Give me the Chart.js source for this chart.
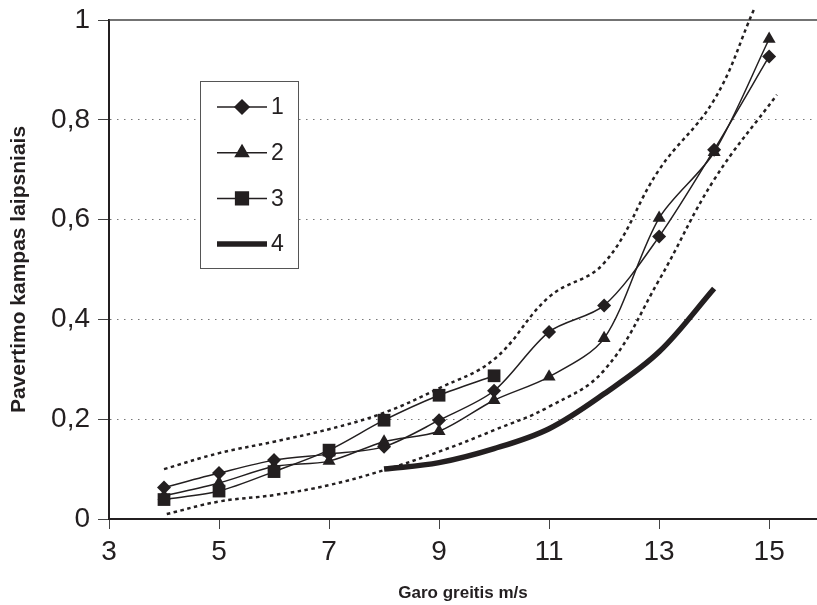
<!DOCTYPE html>
<html>
<head>
<meta charset="utf-8">
<script src="https://cdn.jsdelivr.net/npm/chart.js@4.4.1/dist/chart.umd.min.js"></script>
<style>
  html, body { margin: 0; padding: 0; background: #fff; }
  #wrap { position: relative; width: 817px; height: 605px; }
</style>
</head>
<body>
<div id="wrap"><canvas id="chart" width="817" height="605"></canvas></div>
<script>
// --- Data ---
const xTicks = [3, 5, 7, 9, 11, 13, 15];
const yTicks = [0, 0.2, 0.4, 0.6, 0.8, 1];

const speeds1 = [4, 5, 6, 7, 8, 9, 10, 11, 12, 13, 14, 15];
const series1 = [0.063, 0.092, 0.118, 0.13, 0.145, 0.198, 0.257, 0.375, 0.428, 0.566, 0.74, 0.927];

const speeds2 = [4, 5, 6, 7, 8, 9, 10, 11, 12, 13, 14, 15];
const series2 = [0.046, 0.072, 0.105, 0.116, 0.155, 0.176, 0.238, 0.285, 0.362, 0.603, 0.735, 0.962];

const speeds3 = [4, 5, 6, 7, 8, 9, 10];
const series3 = [0.039, 0.056, 0.095, 0.138, 0.198, 0.248, 0.287];

const speeds4 = [8, 9, 10, 11, 12, 13, 14];
const series4 = [0.1, 0.113, 0.141, 0.181, 0.251, 0.335, 0.462];

const upperX = [4, 5, 6, 7, 8, 9, 10, 11, 12, 13, 14, 14.72];
const upperY = [0.1, 0.132, 0.155, 0.18, 0.213, 0.262, 0.32, 0.445, 0.513, 0.70, 0.84, 1.02];

const lowerX = [4.05, 5, 6, 7, 8, 9, 10, 11, 12, 13, 14, 15.14];
const lowerY = [0.01, 0.035, 0.048, 0.068, 0.098, 0.135, 0.178, 0.225, 0.298, 0.479, 0.68, 0.85];

const legendLabels = ['1', '2', '3', '4'];

const ink = '#231f20';
const font = '"Liberation Sans", Arial, sans-serif';
const toPoints = (xs, ys) => xs.map((x, i) => ({ x: x, y: ys[i] }));

// Legend drawn inside the plot, like the original
const boxLegend = {
    id: 'boxLegend',
    afterDatasetsDraw(chart) {
        const ctx = chart.ctx;
        const left = 200, top = 81, w = 98, h = 187;
        ctx.save();
        ctx.fillStyle = '#fff';
        ctx.fillRect(left, top, w, h);
        ctx.strokeStyle = '#555';
        ctx.lineWidth = 1;
        ctx.strokeRect(left + 0.5, top + 0.5, w, h);

        chart.data.datasets.forEach((ds) => {
            if (!ds.inLegend) return;
            const y = 107 + ds.legendIndex * 45.7;
            ctx.strokeStyle = ds.borderColor;
            ctx.lineWidth = ds.borderWidth;
            ctx.beginPath();
            ctx.moveTo(217, y);
            ctx.lineTo(267, y);
            ctx.stroke();
            if (ds.pointRadius > 0) {
                Chart.helpers.drawPoint(ctx, {
                    pointStyle: ds.pointStyle,
                    radius: ds.pointRadius,
                    borderWidth: 1,
                    rotation: 0
                }, 242, y);
                ctx.fillStyle = ink;
                ctx.fill();
            }
            ctx.fillStyle = ink;
            ctx.font = '23px ' + font;
            ctx.textBaseline = 'middle';
            ctx.fillText(legendLabels[ds.legendIndex], 271, y + 1);
        });
        ctx.restore();
    }
};

// Solid top edge of the plot area
const topEdge = {
    id: 'topEdge',
    beforeDatasetsDraw(chart) {
        const a = chart.chartArea;
        const ctx = chart.ctx;
        ctx.save();
        ctx.strokeStyle = '#444';
        ctx.lineWidth = 1.5;
        ctx.beginPath();
        ctx.moveTo(a.left, a.top);
        ctx.lineTo(a.right, a.top);
        ctx.stroke();
        ctx.restore();
    }
};

const bandStyle = {
    borderColor: ink,
    borderWidth: 2.5,
    borderDash: [3.5, 3.5],
    pointRadius: 0,
    tension: 0.4,
    fill: false,
    inLegend: false
};

new Chart(document.getElementById('chart').getContext('2d'), {
    type: 'line',
    data: {
        datasets: [
            Object.assign({ label: 'upper', data: toPoints(upperX, upperY) }, bandStyle),
            Object.assign({ label: 'lower', data: toPoints(lowerX, lowerY) }, bandStyle),
            {
                label: '4',
                data: toPoints(speeds4, series4),
                borderColor: ink,
                borderWidth: 5.5,
                pointRadius: 0,
                tension: 0.35,
                inLegend: true,
                legendIndex: 3
            },
            {
                label: '3',
                data: toPoints(speeds3, series3),
                borderColor: ink,
                backgroundColor: ink,
                borderWidth: 1.5,
                pointStyle: 'rect',
                pointRadius: 9,
                pointBorderWidth: 0,
                tension: 0.3,
                inLegend: true,
                legendIndex: 2
            },
            {
                label: '2',
                data: toPoints(speeds2, series2),
                borderColor: ink,
                backgroundColor: ink,
                borderWidth: 1.5,
                pointStyle: 'triangle',
                pointRadius: 7.5,
                pointBorderWidth: 0,
                tension: 0.3,
                inLegend: true,
                legendIndex: 1
            },
            {
                label: '1',
                data: toPoints(speeds1, series1),
                borderColor: ink,
                backgroundColor: ink,
                borderWidth: 1.5,
                pointStyle: 'rectRot',
                pointRadius: 7,
                pointBorderWidth: 0,
                tension: 0.3,
                inLegend: true,
                legendIndex: 0
            }
        ]
    },
    options: {
        responsive: false,
        animation: false,
        clip: false,
        layout: { autoPadding: false, padding: { top: 20, right: 0, bottom: 0, left: 0 } },
        plugins: {
            legend: { display: false },
            tooltip: { enabled: false }
        },
        scales: {
            x: {
                type: 'linear',
                min: 3,
                max: 15.87,
                afterBuildTicks: (scale) => { scale.ticks = xTicks.map(v => ({ value: v })); },
                afterFit: (scale) => { scale.height = 86; scale.paddingRight = 0; scale.paddingLeft = 0; },
                border: { color: ink, width: 2 },
                grid: { drawOnChartArea: false, tickLength: 10, tickColor: '#444', tickWidth: 1 },
                ticks: {
                    color: ink,
                    padding: 6,
                    maxRotation: 0,
                    font: { family: font, size: 28 }
                },
                title: {
                    display: true,
                    text: 'Garo greitis m/s',
                    color: ink,
                    padding: { top: 0, bottom: 1 },
                    font: { family: font, size: 17, weight: 'bold' }
                }
            },
            y: {
                min: 0,
                max: 1,
                afterBuildTicks: (scale) => { scale.ticks = yTicks.map(v => ({ value: v })); },
                afterFit: (scale) => { scale.width = 109; scale.paddingTop = 0; scale.paddingBottom = 0; },
                border: { color: ink, width: 2, dash: [1.5, 5.5] },
                grid: {
                    color: (c) => (c.tick && (c.tick.value === 0 || c.tick.value === 1)) ? 'rgba(0,0,0,0)' : '#777',
                    lineWidth: 1,
                    tickLength: 11,
                    tickColor: '#444',
                    tickWidth: 1,
                    tickBorderDash: []
                },
                ticks: {
                    color: ink,
                    padding: 8,
                    font: { family: font, size: 28 },
                    callback: (v) => String(Math.round(v * 10) / 10).replace('.', ',')
                },
                title: {
                    display: true,
                    text: 'Pavertimo kampas laipsniais',
                    color: ink,
                    padding: { top: 7, bottom: 0 },
                    font: { family: font, size: 21, weight: 'bold' }
                }
            }
        }
    },
    plugins: [topEdge, boxLegend]
});
</script>
</body>
</html>
